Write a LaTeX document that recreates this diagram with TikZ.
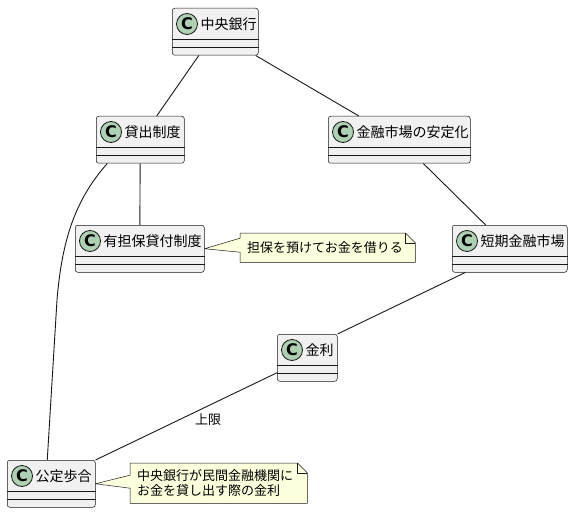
\documentclass[tikz,border=0pt]{standalone}
\usepackage{fontspec}
\setmainfont{Noto Sans CJK JP}
\newfontfamily\markfont{DejaVu Sans}
\usetikzlibrary{backgrounds}
\definecolor{umlline}{HTML}{181818}
\definecolor{umlfill}{HTML}{F1F1F1}
\definecolor{umlmark}{HTML}{ADD1B2}
\definecolor{umlnote}{HTML}{FEFFDD}
\tikzset{
  classbox/.style={rectangle, rounded corners=2.5pt, draw=umlline, line width=0.5pt,
                   fill=umlfill, minimum height=47pt, inner sep=0pt},
  complines/.style={draw=umlline, line width=0.5pt},
  classmark/.style={circle, draw=umlline, line width=0.8pt, fill=umlmark, minimum size=21pt,
                    inner sep=0pt, font=\markfont\bfseries\fontsize{16}{16}\selectfont},
  classname/.style={anchor=west, inner sep=0pt, font=\fontsize{14}{16}\selectfont},
  notetext/.style={anchor=north west, inner ysep=0pt, inner xsep=7pt, align=left,
                   font=\fontsize{13}{15}\selectfont},
  noteshape/.style={draw=umlline, line width=0.5pt, fill=umlnote},
  assoc/.style={draw=umlline, line width=0.9pt},
  edgelabel/.style={inner sep=0pt, font=\fontsize{13}{15}\selectfont},
}
% name, left, top, width, title
\newcommand\umlclass[5]{%
  \node[classbox, minimum width=#4pt, anchor=north west] (#1) at (#2,#3) {};
  \draw[complines] ([yshift=-31pt]#1.north west) -- ([yshift=-31pt]#1.north east)
                   ([yshift=-39pt]#1.north west) -- ([yshift=-39pt]#1.north east);
  \node[classmark] (#1-c) at ([xshift=15pt,yshift=-16pt]#1.north west) {C};
  \node[classname] (#1-t) at ([xshift=28.5pt,yshift=-16pt]#1.north west) {#5};
}
\begin{document}
\begin{tikzpicture}[x=1pt, y=-1pt]
\useasboundingbox (0,0) rectangle (572,513);

\umlclass{zy}{172}{8}{86}{中央銀行}
\umlclass{kd}{96}{116}{88}{貸出制度}
\umlclass{ks}{328}{116}{142}{金融市場の安定化}
\umlclass{yq}{75}{225}{129}{有担保貸付制度}
\umlclass{tk}{452}{225}{115}{短期金融市場}
\umlclass{kr}{277}{334}{60}{金利}
\umlclass{kb}{7}{460}{88}{公定歩合}

% notes
\node[notetext, text width=161pt, minimum height=29pt] (n1) at (240,233) {担保を預けてお金を借りる};
\node[notetext, text width=163pt, minimum height=40pt] (n2) at (130,463)
  {中央銀行が民間金融機関に\\お金を貸し出す際の金利};
\begin{scope}[on background layer]
  \foreach \n/\c/\u/\l in {n1/yq/9.5/-4.5, n2/kb/8/-5} {
    \draw[noteshape] (\n.north west) -- ([xshift=-10pt]\n.north east)
      -- ([yshift=-10pt]\n.north east) -- (\n.south east) -- (\n.south west)
      -- ([yshift=\l pt]\n.west) -- (\c.east) -- ([yshift=\u pt]\n.west) -- cycle;
    \draw[noteshape, fill=none] ([xshift=-10pt]\n.north east)
      -- ([xshift=-10pt,yshift=-10pt]\n.north east) -- ([yshift=-10pt]\n.north east);
  }
\end{scope}

% links
\foreach \a/\b in {zy/kd, zy/ks, kd/yq, ks/tk}
  \draw[assoc] (\a) -- (\b);
\draw[assoc] ([xshift=-33pt]kd.south) .. controls (75,200) and (62,240) .. (57,300)
  -- ([xshift=-4pt]kb.north);
\draw[assoc] ([xshift=-44.5pt]tk.south) -- (kr.north east);
\draw[assoc] ([yshift=-15pt]kr.west) -- (kb.north east)
  node[edgelabel, pos=0.38, yshift=-14pt] (lim) {上限};
\end{tikzpicture}
\end{document}
